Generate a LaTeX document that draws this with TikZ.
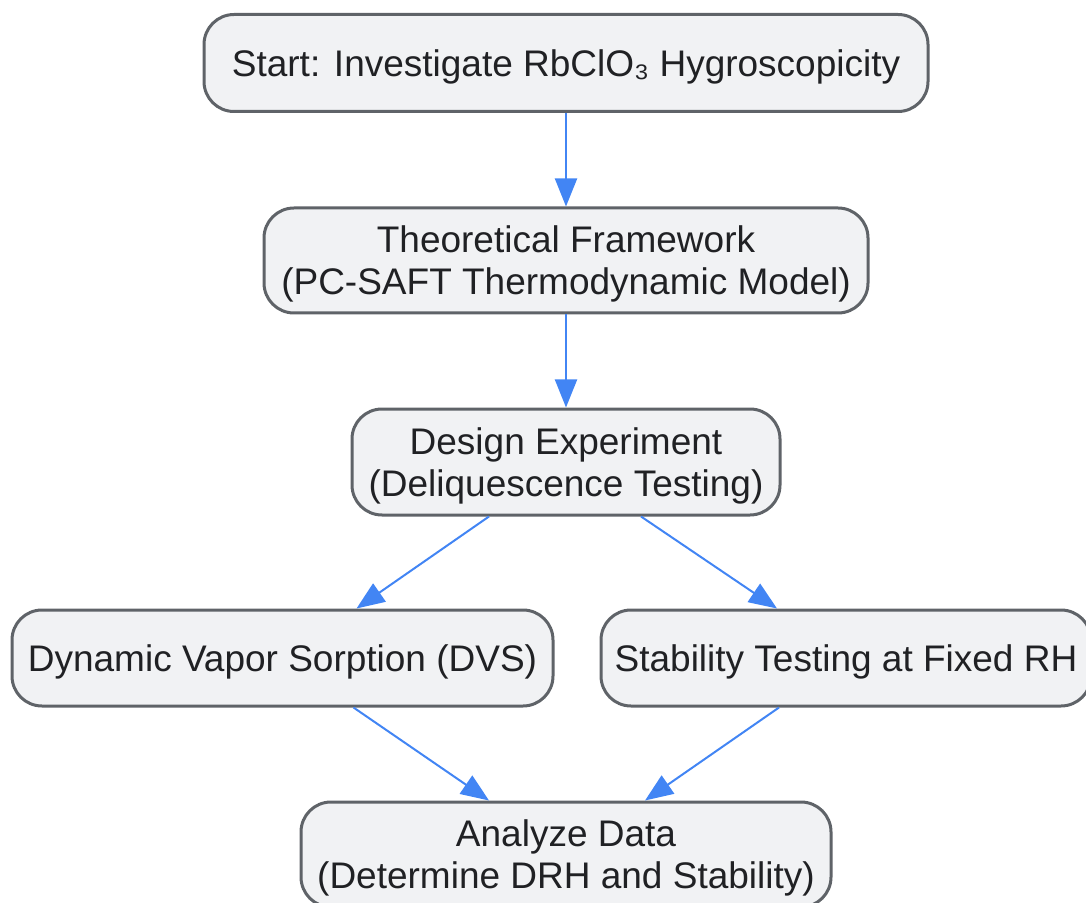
\documentclass[tikz,border=0pt]{standalone}
\usepackage{fontspec}
\setmainfont{Liberation Sans}
\usepackage{tikz}
\usetikzlibrary{arrows.meta}
\definecolor{boxfill}{HTML}{F1F2F4}
\definecolor{boxline}{HTML}{5F6368}
\definecolor{flowblue}{HTML}{4285F4}
\definecolor{inktext}{HTML}{202124}

\begin{document}
\begin{tikzpicture}[x=0.5pt,y=-0.5pt,
  stage/.style={draw=boxline,line width=1.5pt,fill=boxfill,rounded corners=15pt,
    align=center,text=inktext,inner sep=0pt,text depth=-2.5pt,
    font=\fontsize{18.5}{21}\selectfont},
  flow/.style={draw=flowblue,line width=1pt,-{Triangle[length=14pt,width=11pt]}}]
\useasboundingbox (0,0) rectangle (1086,903);
\node[stage,minimum width=362pt,minimum height=48.5pt] (start) at (566,63) {Start: Investigate RbClO₃ Hygroscopicity};
\node[stage,minimum width=302pt,minimum height=52.5pt] (theory) at (566,260.5) {Theoretical Framework\\(PC-SAFT Thermodynamic Model)};
\node[stage,minimum width=214pt,minimum height=53pt] (design) at (566,462) {Design Experiment\\(Deliquescence Testing)};
\node[stage,minimum width=270.5pt,minimum height=48pt] (dvs) at (282.5,658) {Dynamic Vapor Sorption (DVS)};
\node[stage,minimum width=245pt,minimum height=48pt] (fixed) at (846,658) {Stability Testing at Fixed RH};
\node[stage,minimum width=265pt,minimum height=52.5pt] (analyze) at (566,854.5) {Analyze Data\\(Determine DRH and Stability)};
\draw[flow] (start.south) -- (theory.north);
\draw[flow] (theory.south) -- (design.north);
\draw[flow] ([xshift=-38.5pt]design.south) -- ([xshift=37pt]dvs.north);
\draw[flow] ([xshift=37.5pt]design.south) -- ([xshift=-34.5pt]fixed.north);
\draw[flow] ([xshift=35.5pt]dvs.south) -- ([xshift=-38.5pt]analyze.north);
\draw[flow] ([xshift=-33.5pt]fixed.south) -- ([xshift=39.5pt]analyze.north);
\end{tikzpicture}
\end{document}
